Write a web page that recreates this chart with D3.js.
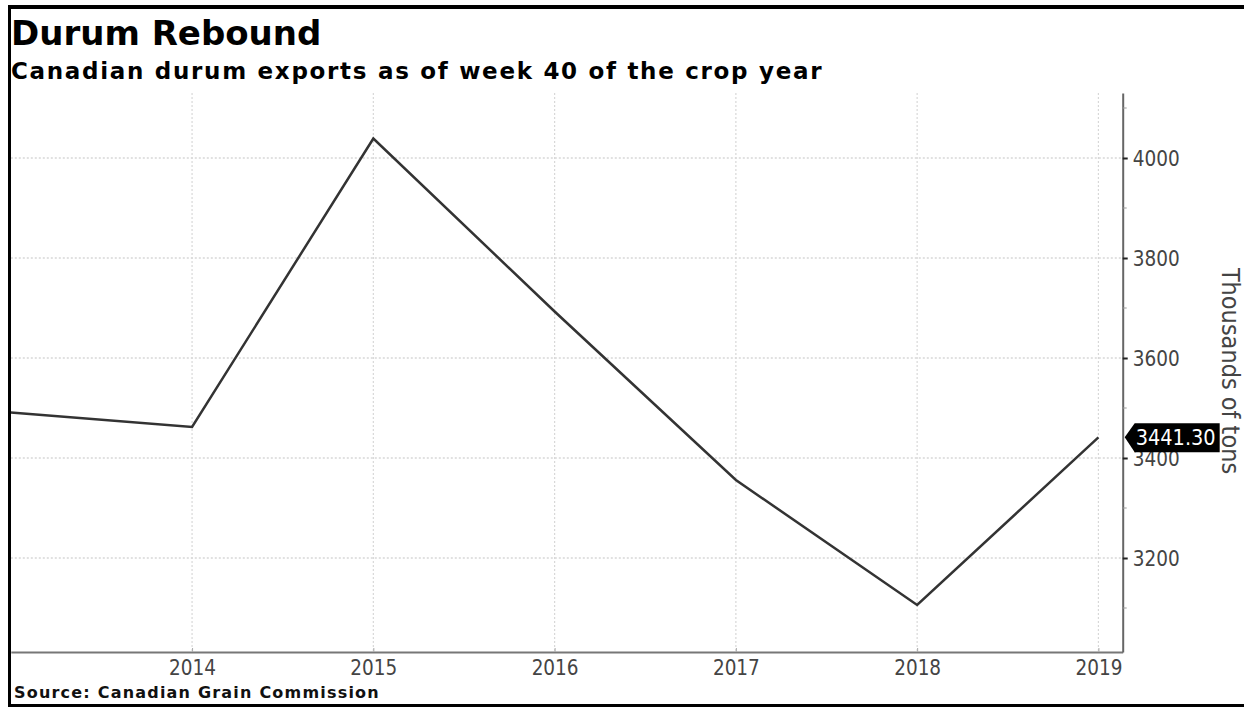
<!DOCTYPE html>
<html>
  <head>
    <script src="https://d3js.org/d3.v7.min.js"></script>
    <style>
      body { margin: 0; background: #fff; }
      text { font-family: "DejaVu Sans", sans-serif; }
      .tick-label { font-family: "DejaVu Sans Condensed", "DejaVu Sans", sans-serif; font-size: 20.5px; fill: #444; }
    </style>
  </head>
  <body>
    <div id="chart"></div>
    <script>
      // Data
      const years = [2013, 2014, 2015, 2016, 2017, 2018, 2019];
      const exports = [3491, 3462, 4039, 3693, 3356, 3106, 3441.30];
      const xTicks = [2014, 2015, 2016, 2017, 2018, 2019];
      const yTicks = [3200, 3400, 3600, 3800, 4000];
      const yMinorTicks = [3100, 3300, 3500, 3700, 3900, 4100];

      const W = 1244, H = 707;
      const plot = { left: 10.8, right: 1122.7, top: 93, bottom: 652 };

      const svg = d3.select("#chart")
        .append("svg")
        .attr("width", W)
        .attr("height", H);

      svg.append("rect").attr("width", W).attr("height", H).attr("fill", "#fff");

      // Scales
      const x = d3.scaleLinear()
        .domain([2013, 2019.134])
        .range([plot.left, plot.right]);

      const y = d3.scaleLinear()
        .domain([3012, 4130])
        .range([plot.bottom, plot.top]);

      // Grid lines
      svg.append("g")
        .selectAll("line")
        .data(xTicks)
        .join("line")
        .attr("x1", d => x(d)).attr("x2", d => x(d))
        .attr("y1", plot.top).attr("y2", plot.bottom)
        .attr("stroke", "#d8d8d8")
        .attr("stroke-width", 1.2)
        .attr("stroke-dasharray", "2,2");

      svg.append("g")
        .selectAll("line")
        .data(yTicks)
        .join("line")
        .attr("x1", plot.left).attr("x2", plot.right)
        .attr("y1", d => y(d)).attr("y2", d => y(d))
        .attr("stroke", "#d8d8d8")
        .attr("stroke-width", 1.5)
        .attr("stroke-dasharray", "2,2");

      // Bottom axis
      const xAxis = svg.append("g")
        .attr("transform", `translate(0, ${plot.bottom})`)
        .call(d3.axisBottom(x).tickValues(xTicks).tickFormat(d3.format("d")).tickSize(4).tickSizeOuter(0));
      xAxis.select(".domain").attr("stroke", "#777").attr("stroke-width", 2);
      xAxis.selectAll(".tick line").attr("stroke", "#aaa").attr("transform", "translate(0,-4)");
      xAxis.selectAll(".tick text")
        .attr("class", "tick-label")
        .attr("dy", 0)
        .attr("y", 23)
        .attr("font-family", null)
        .attr("font-size", null);

      // Right axis
      const yAxis = svg.append("g")
        .attr("transform", `translate(${plot.right}, 0)`)
        .call(d3.axisRight(y).tickValues(yTicks).tickFormat(d3.format("d")).tickSize(5).tickSizeOuter(0));
      yAxis.select(".domain").attr("stroke", "#666").attr("stroke-width", 2);
      yAxis.selectAll(".tick line").attr("stroke", "#222").attr("stroke-width", 2);
      yAxis.selectAll(".tick text")
        .attr("class", "tick-label")
        .attr("x", 10)
        .attr("dy", "0.35em")
        .attr("font-family", null)
        .attr("font-size", null);

      svg.append("g")
        .selectAll("line")
        .data(yMinorTicks)
        .join("line")
        .attr("x1", plot.right).attr("x2", plot.right + 4)
        .attr("y1", d => y(d)).attr("y2", d => y(d))
        .attr("stroke", "#999")
        .attr("stroke-width", 1);

      // Data line
      const line = d3.line()
        .x((d, i) => x(years[i]))
        .y(d => y(d));

      svg.append("path")
        .datum(exports)
        .attr("d", line)
        .attr("fill", "none")
        .attr("stroke", "#333")
        .attr("stroke-width", 2.5)
        .attr("stroke-linejoin", "miter");

      // Last value label
      const last = exports[exports.length - 1];
      const ly = y(last);
      const lx = plot.right + 2;
      svg.append("path")
        .attr("d", `M${lx},${ly} L${lx + 10},${ly - 14} L${lx + 95},${ly - 14} L${lx + 95},${ly + 15} L${lx + 10},${ly + 15} Z`)
        .attr("fill", "#000");
      svg.append("text")
        .attr("x", lx + 11)
        .attr("y", ly + 8)
        .attr("fill", "#fff")
        .style("font-family", "'DejaVu Sans Condensed', 'DejaVu Sans', sans-serif")
        .style("font-size", "21.5px")
        .text(d3.format(".2f")(last));

      // Axis title
      svg.append("text")
        .attr("transform", `translate(1222, 371) rotate(90)`)
        .attr("text-anchor", "middle")
        .attr("fill", "#444")
        .style("font-family", "'DejaVu Sans Condensed', 'DejaVu Sans', sans-serif")
        .style("font-size", "25px")
        .text("Thousands of tons");

      // Titles
      svg.append("text")
        .attr("x", 11)
        .attr("y", 45)
        .attr("fill", "#000")
        .style("font-weight", "bold")
        .style("font-size", "34px")
        .text("Durum Rebound");

      svg.append("text")
        .attr("x", 11)
        .attr("y", 79)
        .attr("fill", "#000")
        .style("font-weight", "bold")
        .style("font-size", "23px")
        .style("letter-spacing", "1.7px")
        .text("Canadian durum exports as of week 40 of the crop year");

      svg.append("text")
        .attr("x", 14)
        .attr("y", 698)
        .attr("fill", "#111")
        .style("font-weight", "bold")
        .style("font-size", "16px")
        .style("letter-spacing", "1.2px")
        .text("Source: Canadian Grain Commission");

      // Frame
      svg.append("rect").attr("x", 8).attr("y", 5).attr("width", 3).attr("height", H - 5).attr("fill", "#000");
      svg.append("rect").attr("x", 8).attr("y", 5).attr("width", W - 8).attr("height", 4).attr("fill", "#000");
      svg.append("rect").attr("x", 8).attr("y", H - 3).attr("width", W - 8).attr("height", 3).attr("fill", "#000");
    </script>
  </body>
</html>
